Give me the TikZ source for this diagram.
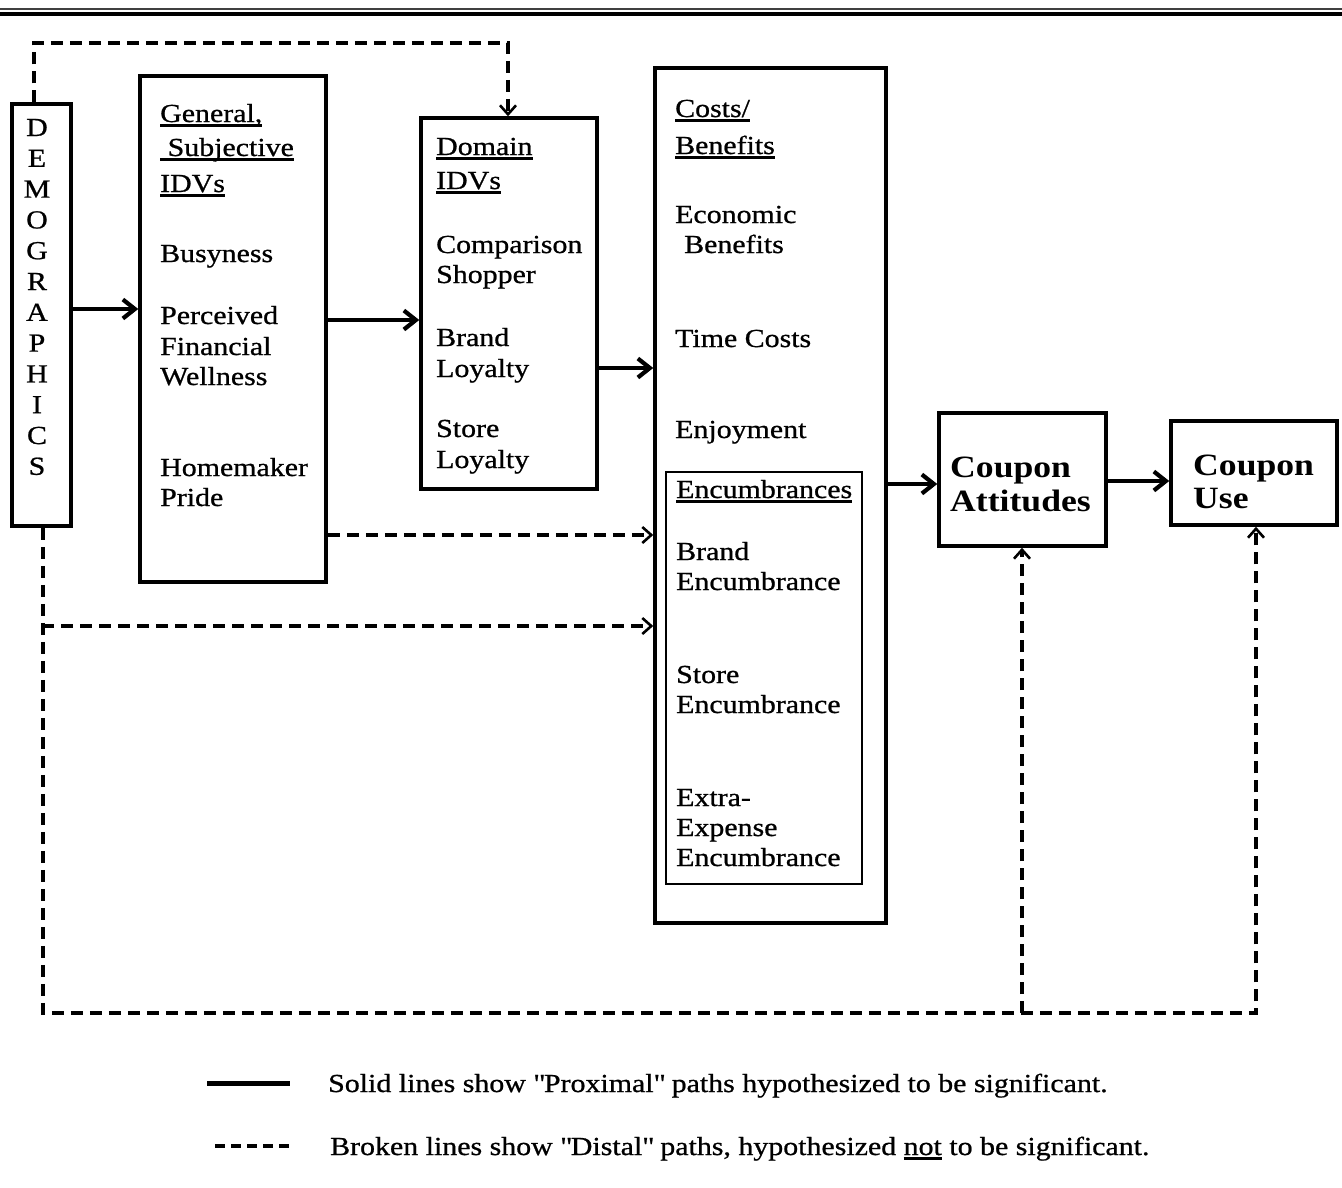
\documentclass[tikz,border=0pt]{standalone}
\usepackage{fontspec}
\setmainfont{Liberation Serif}[FakeStretch=1.15, UprightFeatures={FakeBold=0.8}]
\usetikzlibrary{arrows.meta}
\newcommand{\ulin}[1]{\setbox0\hbox{#1}\rlap{\rule[-4.5pt]{\wd0}{2.4pt}}\box0\relax}
\begin{document}
\begin{tikzpicture}[x=1pt,y=-1pt,
  box/.style={draw, line width=3.5pt, inner sep=0pt},
  thinbox/.style={draw, line width=2pt, inner sep=0pt},
  txt/.style={anchor=base west, inner sep=0pt, font=\fontsize{26}{30}\selectfont},
  ctxt/.style={anchor=base, inner sep=0pt, font=\fontsize{26}{30}\selectfont},
  btxt/.style={anchor=base west, inner sep=0pt, font=\fontsize{31}{34}\selectfont\bfseries},
  solidarrow/.style={line width=4.5pt, -{Straight Barb[length=12pt,width=19pt,line width=4.2pt]}},
  dasharrow/.style={line width=3.4pt, dash pattern=on 12pt off 7pt, -{Straight Barb[length=9pt,width=16pt,line width=2.6pt]}},
]
\useasboundingbox (0,0) rectangle (1342,1187);

% top double rule
\draw[line width=1.8pt, black!75] (0,9) -- (1342,9);
\draw[line width=3.2pt] (0,14) -- (1342,14);

% boxes
\node[box, minimum width=59pt, minimum height=422pt] (demo) at (41.5,315) {};
\node[box, minimum width=186pt, minimum height=506pt] (gen) at (233,329) {};
\node[box, minimum width=176pt, minimum height=371pt] (dom) at (509,303.5) {};
\node[box, minimum width=231pt, minimum height=855pt] (cost) at (770.5,495.5) {};
\node[thinbox, minimum width=196pt, minimum height=412pt] (enc) at (764,678) {};
\node[box, minimum width=167pt, minimum height=133pt] (att) at (1022.5,479.5) {};
\node[box, minimum width=166pt, minimum height=104pt] (use) at (1254,473) {};

% DEMOGRAPHICS letters
\foreach \l [count=\i from 0] in {D,E,M,O,G,R,A,P,H,I,C,S}{
  \node[ctxt] (dl\i) at (37,136+30.8*\i) {\l};
}

% General, Subjective IDVs
\node[txt] (g1) at (160,122) {\ulin{General,}};
\node[txt] (g2) at (160,156) {\ulin{\ Subjective}};
\node[txt] (g3) at (160,192) {\ulin{IDVs}};
\node[txt] (g4) at (160,262) {Busyness};
\node[txt] (g5) at (160,324) {Perceived};
\node[txt] (g6) at (160,355) {Financial};
\node[txt] (g7) at (160,385) {Wellness};
\node[txt] (g8) at (160,476) {Homemaker};
\node[txt] (g9) at (160,506) {Pride};

% Domain IDVs
\node[txt] (d1) at (436,155) {\ulin{Domain}};
\node[txt] (d2) at (436,189) {\ulin{IDVs}};
\node[txt] (d3) at (436,253) {Comparison};
\node[txt] (d4) at (436,283) {Shopper};
\node[txt] (d5) at (436,346) {Brand};
\node[txt] (d6) at (436,377) {Loyalty};
\node[txt] (d7) at (436,437) {Store};
\node[txt] (d8) at (436,468) {Loyalty};

% Costs / Benefits
\node[txt] (c1) at (675,117) {\ulin{Costs/}};
\node[txt] (c2) at (675,154) {\ulin{Benefits}};
\node[txt] (c3) at (675,223) {Economic};
\node[txt] (c4) at (684,253) {Benefits};
\node[txt] (c5) at (675,347) {Time Costs};
\node[txt] (c6) at (675,438) {Enjoyment};
\node[txt] (e1) at (676,498) {\ulin{Encumbrances}};
\node[txt] (e2) at (676,560) {Brand};
\node[txt] (e3) at (676,590) {Encumbrance};
\node[txt] (e4) at (676,683) {Store};
\node[txt] (e5) at (676,713) {Encumbrance};
\node[txt] (e6) at (676,806) {Extra-};
\node[txt] (e7) at (676,836) {Expense};
\node[txt] (e8) at (676,866) {Encumbrance};

% Coupon boxes
\node[btxt] (a1) at (950,477) {Coupon};
\node[btxt] (a2) at (950,511) {Attitudes};
\node[btxt] (u1) at (1193,475) {Coupon};
\node[btxt] (u2) at (1193,508) {Use};

% coordinates
\coordinate (y1) at (0,309);
\coordinate (y2) at (0,320);
\coordinate (y3) at (0,368);
\coordinate (y4) at (0,484);
\coordinate (y5) at (0,481);
\coordinate (y6) at (0,535);
\coordinate (tA) at (34,0);
\coordinate (tB) at (34,43);
\coordinate (tC) at (508,43);
\coordinate (bA) at (43,0);
\coordinate (bB) at (43,1013);
\coordinate (bC) at (1256,1013);
\coordinate (bJ) at (1022,1013);
\coordinate (brs) at (42,626);

% solid arrows
\draw[solidarrow] (demo.east |- y1) -- (gen.west |- y1);
\draw[solidarrow] (gen.east |- y2) -- (dom.west |- y2);
\draw[solidarrow] (dom.east |- y3) -- (cost.west |- y3);
\draw[solidarrow] (cost.east |- y4) -- (att.west |- y4);
\draw[solidarrow] (att.east |- y5) -- (use.west |- y5);

% dashed arrows
\draw[dasharrow] (demo.north -| tA) -- (tB) -- (tC) -- (dom.north -| tC);
\draw[dasharrow] (gen.east |- y6) -- (cost.west |- y6);
\draw[dasharrow] (demo.south -| bA) -- (bB) -- (bC) -- (use.south -| bC);
\draw[dasharrow] (brs) -- (cost.west |- brs);
\draw[dasharrow] (bJ) -- (att.south -| bJ);

% legend
\coordinate (ls1) at (207,1083);
\coordinate (ls2) at (290,1083);
\coordinate (ld1) at (215,1146);
\coordinate (ld2) at (290,1146);
\draw[line width=5pt] (ls1) -- (ls2);
\draw[line width=3.4pt, dash pattern=on 10pt off 6pt] (ld1) -- (ld2);
\node[txt] (leg1) at (328,1092) {Solid lines show \textquotedbl Proximal\textquotedbl{} paths hypothesized to be significant.};
\node[txt] (leg2) at (330,1155) {Broken lines show \textquotedbl Distal\textquotedbl{} paths, hypothesized \ulin{not} to be significant.};
\end{tikzpicture}
\end{document}
